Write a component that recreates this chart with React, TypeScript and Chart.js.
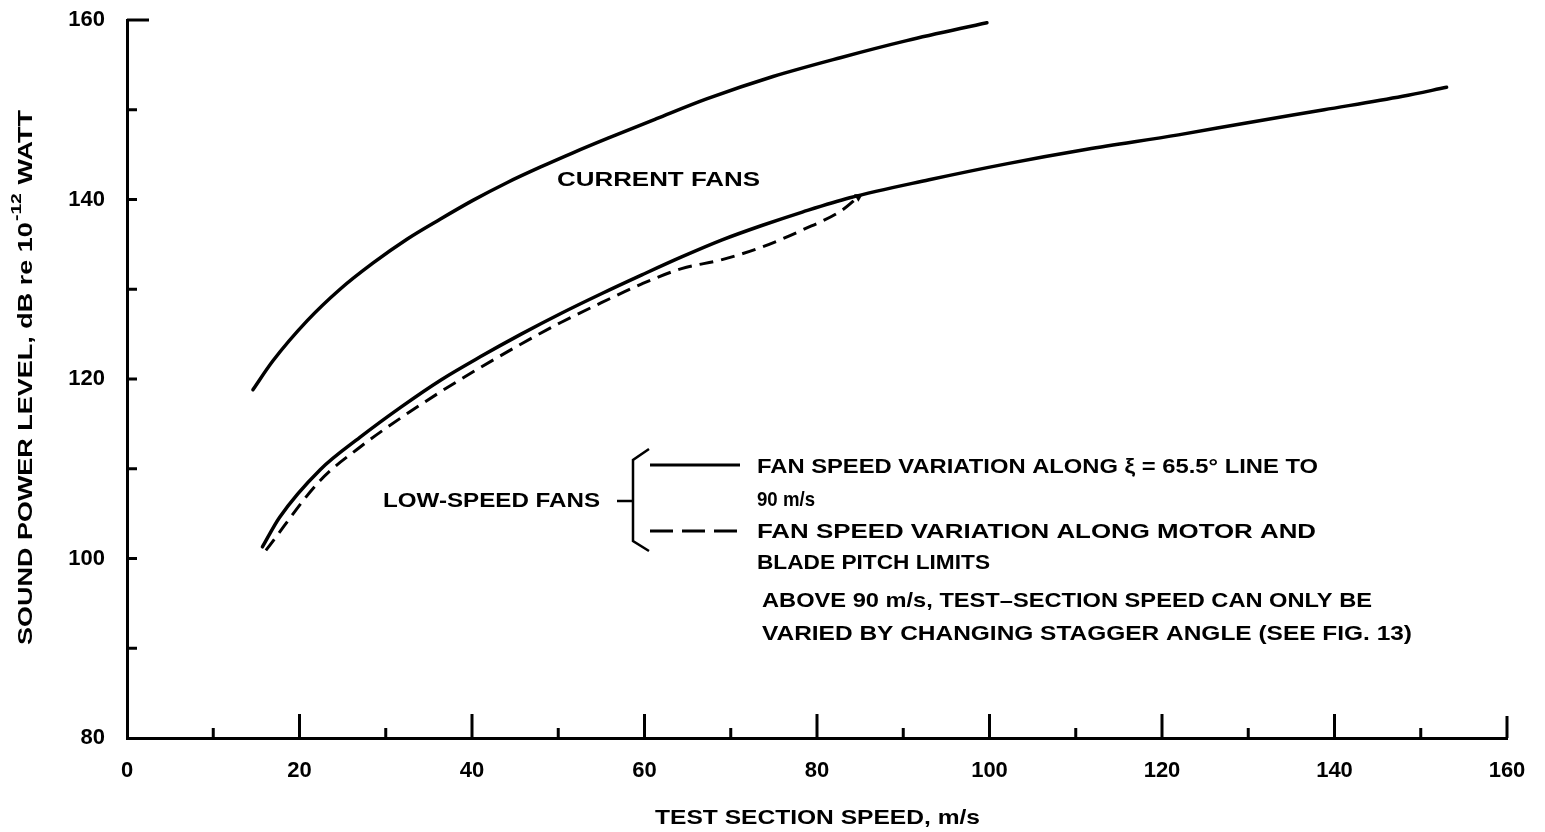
import React, { useEffect, useRef } from 'react';
import { Chart, registerables } from 'chart.js';
Chart.register(...registerables);

// ---- Data ----
const currentFansX = [14.6, 16.9, 20.9, 24.7, 28.5, 32.5, 36.3, 40.1, 44.1, 47.9, 51.7, 55.7, 61.4, 67.2, 74.9, 82.7, 90.4, 99.7];
const currentFansY = [118.8, 122.0, 126.5, 130.0, 132.9, 135.6, 137.8, 139.9, 141.9, 143.6, 145.2, 146.8, 149.0, 151.2, 153.7, 155.8, 157.7, 159.7];

const lowSolidX = [15.7, 17.7, 22.4, 27.0, 31.8, 36.4, 41.0, 45.7, 50.3, 55.0, 59.7, 64.3, 69.0, 73.6, 78.3, 83.8, 93.0, 102.1, 111.3, 121.9, 129.6, 138.8, 147.9, 153.0];
const lowSolidY = [101.3, 104.6, 109.9, 113.5, 116.9, 119.9, 122.5, 125.0, 127.3, 129.5, 131.6, 133.6, 135.5, 137.1, 138.6, 140.2, 142.2, 144.0, 145.6, 147.2, 148.5, 150.0, 151.5, 152.5];

const lowDashedX = [16.1, 22.4, 27.0, 31.8, 36.4, 41.0, 45.7, 50.3, 55.0, 59.7, 64.3, 69.0, 73.6, 78.3, 82.9, 84.8];
const lowDashedY = [100.9, 108.7, 112.4, 115.7, 118.6, 121.3, 123.9, 126.3, 128.5, 130.6, 132.3, 133.3, 134.7, 136.6, 138.8, 140.3];

const xMajorTicks = [20, 40, 60, 80, 100, 120, 140, 160];
const xMinorTicks = [10, 30, 50, 70, 90, 110, 130, 150];
const yTicks = [90, 100, 110, 120, 130, 140, 150, 160];
const labelStep = 20;

const xTitle = 'TEST SECTION SPEED, m/s';
const yTitleMain = 'SOUND POWER LEVEL, dB re 10';
const yTitleSup = '-12';
const yTitleEnd = ' WATT';
const currentLabel = 'CURRENT FANS';
const lowLabel = 'LOW-SPEED FANS';
const legendSolid = ['FAN SPEED VARIATION ALONG \u03BE = 65.5\u00B0 LINE TO', '90 m/s'];
const legendDashed = ['FAN SPEED VARIATION ALONG MOTOR AND', 'BLADE PITCH LIMITS'];
const noteLines = ['ABOVE 90 m/s, TEST\u2013SECTION SPEED CAN ONLY BE', 'VARIED BY CHANGING STAGGER ANGLE (SEE FIG. 13)'];

const FONT = '"Liberation Sans", Arial, Helvetica, sans-serif';

function pts(xs: number[], ys: number[]) {
  return xs.map((x, i) => ({ x, y: ys[i] }));
}

function fitText(ctx: CanvasRenderingContext2D, text: string, x: number, y: number, w: number, size: number) {
  ctx.save();
  ctx.font = `bold ${size}px ${FONT}`;
  const m = ctx.measureText(text).width;
  ctx.translate(x, y);
  ctx.scale(w / m, 1);
  ctx.textAlign = 'left';
  ctx.textBaseline = 'middle';
  ctx.fillText(text, 0, 0);
  ctx.restore();
}

export default function App() {
  const ref = useRef<HTMLCanvasElement>(null);
  useEffect(() => {
    const canvas = ref.current!;
    const overlay = {
      id: 'overlay',
      afterDraw(chart: any) {
        const ctx: CanvasRenderingContext2D = chart.ctx;
        const xs = chart.scales.x;
        const ys = chart.scales.y;
        const left = xs.getPixelForValue(0);
        const bottom = ys.getPixelForValue(80);
        ctx.save();
        ctx.strokeStyle = '#000';
        ctx.fillStyle = '#000';
        ctx.lineWidth = 3;
        ctx.lineCap = 'butt';
        const line = (x1: number, y1: number, x2: number, y2: number) => {
          ctx.beginPath();
          ctx.moveTo(x1, y1);
          ctx.lineTo(x2, y2);
          ctx.stroke();
        };
        xMajorTicks.forEach((v) => {
          const px = xs.getPixelForValue(v);
          line(px, bottom, px, bottom - (v === 160 ? 22 : 24));
        });
        xMinorTicks.forEach((v) => {
          const px = xs.getPixelForValue(v);
          line(px, bottom, px, bottom - 10);
        });
        yTicks.forEach((v) => {
          const py = ys.getPixelForValue(v);
          line(left, py, left + (v === 160 ? 22 : 10), py);
        });

        // Y axis title with superscript
        ctx.save();
        ctx.translate(26, 645);
        ctx.rotate(-Math.PI / 2);
        ctx.font = `bold 21px ${FONT}`;
        const w1 = ctx.measureText(yTitleMain).width;
        const w3 = ctx.measureText(yTitleEnd).width;
        ctx.font = `bold 15px ${FONT}`;
        const w2 = ctx.measureText(yTitleSup).width;
        const s = 535 / (w1 + w2 + w3 + 2);
        ctx.scale(s, 1);
        ctx.textBaseline = 'middle';
        ctx.textAlign = 'left';
        ctx.font = `bold 21px ${FONT}`;
        ctx.fillText(yTitleMain, 0, 0);
        ctx.font = `bold 15px ${FONT}`;
        ctx.fillText(yTitleSup, w1 + 1, -9);
        ctx.font = `bold 21px ${FONT}`;
        ctx.fillText(yTitleEnd, w1 + w2 + 2, 0);
        ctx.restore();

        // X axis title
        fitText(ctx, xTitle, 655, 818, 325, 21);

        // Annotations
        fitText(ctx, currentLabel, 557, 180, 203, 21);
        fitText(ctx, lowLabel, 383, 501, 217, 21);
        fitText(ctx, legendSolid[0], 757, 467, 561, 21);
        fitText(ctx, legendSolid[1], 757, 500, 58, 21);
        fitText(ctx, legendDashed[0], 757, 532, 559, 21);
        fitText(ctx, legendDashed[1], 757, 563, 233, 21);
        fitText(ctx, noteLines[0], 762, 601, 610, 21);
        fitText(ctx, noteLines[1], 762, 634, 650, 21);

        // Bracket
        ctx.lineWidth = 2.5;
        line(617, 501, 633, 501);
        ctx.beginPath();
        ctx.moveTo(649, 449);
        ctx.lineTo(633, 460);
        ctx.lineTo(633, 541);
        ctx.lineTo(649, 551);
        ctx.stroke();

        // Legend samples
        ctx.lineWidth = 3;
        line(650, 465, 740, 465);
        ctx.setLineDash([23, 9]);
        line(650, 531, 743, 531);
        ctx.setLineDash([]);
        ctx.restore();
      },
    };

    const tickFont = { family: FONT, size: 22, weight: 'bold' as const };
    const lastDashed = lowDashedX.length - 1;
    const chart = new Chart(canvas, {
      type: 'line',
      data: {
        datasets: [
          {
            label: 'Current fans',
            data: pts(currentFansX, currentFansY),
            borderColor: '#000',
            borderWidth: 3.5,
            pointRadius: 0,
            cubicInterpolationMode: 'monotone',
            borderCapStyle: 'round',
            fill: false,
          },
          {
            label: 'Low-speed fans (xi = 65.5 deg line)',
            data: pts(lowSolidX, lowSolidY),
            borderColor: '#000',
            borderWidth: 3.5,
            pointRadius: 0,
            cubicInterpolationMode: 'monotone',
            borderCapStyle: 'round',
            fill: false,
          },
          {
            label: 'Low-speed fans (motor and blade pitch limits)',
            data: pts(lowDashedX, lowDashedY),
            borderColor: '#000',
            borderWidth: 3,
            borderDash: [14, 8],
            cubicInterpolationMode: 'monotone',
            fill: false,
            pointStyle: 'triangle',
            pointRadius: (c: any) => (c.dataIndex === lastDashed ? 5 : 0),
            rotation: 60,
            pointBackgroundColor: '#000',
            pointBorderColor: '#000',
            pointBorderWidth: 0,
          },
        ] as any,
      },
      options: {
        animation: false,
        responsive: false,
        maintainAspectRatio: false,
        layout: { padding: { top: 20, right: 38, left: 0, bottom: 0 } },
        plugins: { legend: { display: false }, tooltip: { enabled: false } },
        scales: {
          x: {
            type: 'linear',
            min: 0,
            max: 160,
            ticks: {
              stepSize: 10,
              autoSkip: false,
              maxRotation: 0,
              color: '#000',
              font: tickFont,
              padding: 20,
              callback: (v: any) => (Number(v) % labelStep === 0 ? String(v) : ''),
            },
            grid: { display: true, drawOnChartArea: false, drawTicks: false },
            border: { display: true, color: '#000', width: 3 },
            afterFit: (s: any) => {
              s.height = 94;
              s.paddingLeft = 0;
              s.paddingRight = 0;
            },
          },
          y: {
            type: 'linear',
            min: 80,
            max: 160,
            ticks: {
              stepSize: 10,
              autoSkip: false,
              color: '#000',
              font: tickFont,
              padding: 22,
              callback: (v: any) => (Number(v) % labelStep === 0 ? String(v) : ''),
            },
            grid: { display: true, drawOnChartArea: false, drawTicks: false },
            border: { display: true, color: '#000', width: 3 },
            afterFit: (s: any) => {
              s.width = 127;
              s.paddingTop = 0;
              s.paddingBottom = 0;
            },
          },
        },
      } as any,
      plugins: [overlay],
    });
    return () => chart.destroy();
  }, []);

  return (
    <div style={{ position: 'absolute', left: 0, top: 0, width: 1545, height: 832, background: '#fff' }}>
      <canvas ref={ref} width={1545} height={832} style={{ display: 'block', width: 1545, height: 832 }} />
    </div>
  );
}
